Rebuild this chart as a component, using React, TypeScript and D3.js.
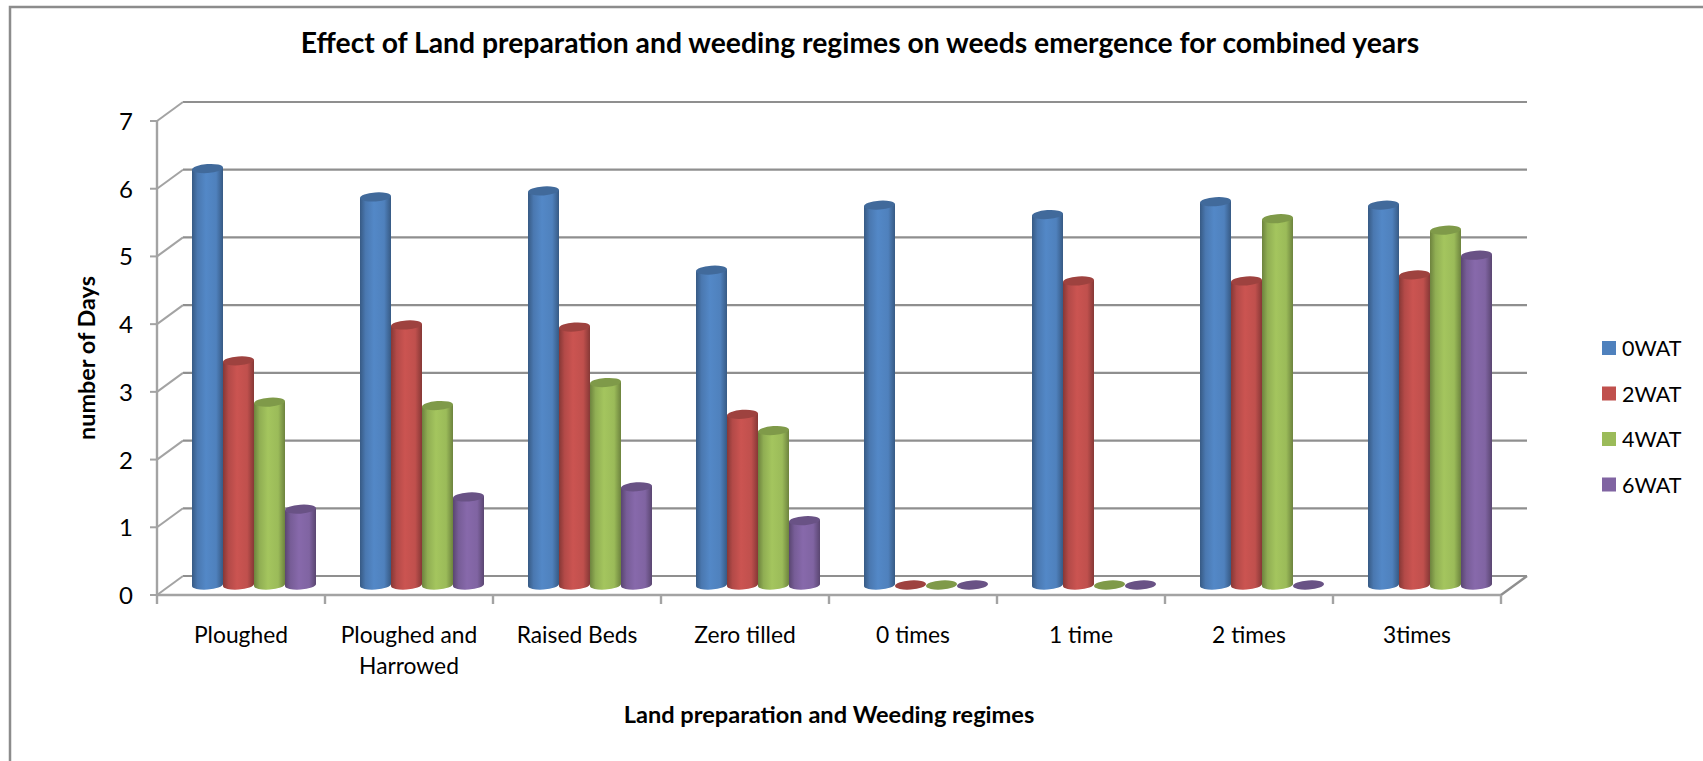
import * as d3 from 'd3';

const categories = ['Ploughed', 'Ploughed and|Harrowed', 'Raised Beds', 'Zero tilled', '0 times', '1 time', '2 times', '3times'];
const seriesNames = ['0WAT', '2WAT', '4WAT', '6WAT'];
const seriesColors = ['#4F81BD', '#C0504D', '#9BBB59', '#8064A2'];

const wat0 = [6.15, 5.73, 5.82, 4.65, 5.61, 5.47, 5.66, 5.61];
const wat2 = [3.31, 3.84, 3.81, 2.52, 0, 4.49, 4.49, 4.58];
const wat4 = [2.7, 2.65, 2.99, 2.28, 0, 0, 5.41, 5.24];
const wat6 = [1.12, 1.3, 1.45, 0.95, 0, 0, 0, 4.87];
const seriesValues = [wat0, wat2, wat4, wat6];

const yTicks = [0, 1, 2, 3, 4, 5, 6, 7];

const W = 1703;
const H = 761;
const FONT = 'Lato, sans-serif';
const GRID = '#8f8f8f';
const AXIS = '#a3a3a3';

// oblique depth of the 3D box
const depthX = 26;
const depthY = -19;

const y = d3.scaleLinear().domain([0, 7]).range([595, 121]);
const x = d3.scaleBand<string>().domain(categories).range([157, 1501]);
const slot = d3.scaleBand<string>().domain(seriesNames).range([35, 159]);

const barLift = 10;
const ry = 4.5;

function cylinderBody(left: number, right: number, top: number, bottom: number) {
  const rx = (right - left) / 2;
  const path = d3.path();
  path.moveTo(left, top);
  path.lineTo(left, bottom);
  return `${path.toString()} A${rx} ${ry} -4 0 0 ${right} ${bottom - 2} L${right} ${top - 2} Z`;
}

export default function App() {
  const front0 = y(0);
  const left = x.range()[0];
  const right = x.range()[1];

  return (
    <svg
      width={W}
      height={H}
      viewBox={`0 0 ${W} ${H}`}
      style={{ position: 'absolute', left: 0, top: 0, background: '#fff' }}
    >
      <defs>
        {seriesColors.map((c, i) => {
          const dark = d3.color(c)!.darker(1).formatHex();
          const mid = d3.color(c)!.darker(0.2).formatHex();
          return (
            <linearGradient id={`cyl${i}`} key={c} x1="0" x2="1" y1="0" y2="0">
              <stop offset="0%" stopColor={dark} />
              <stop offset="18%" stopColor={mid} />
              <stop offset="45%" stopColor={d3.color(c)!.brighter(0.15).formatHex()} />
              <stop offset="78%" stopColor={c} />
              <stop offset="100%" stopColor={dark} />
            </linearGradient>
          );
        })}
      </defs>

      {/* outer frame, only top and left show */}
      <path d={`M10 ${H} L10 7 L${W} 7`} fill="none" stroke="#8c8c8c" strokeWidth={2.5} />

      <text x={860} y={53} textAnchor="middle" fontFamily={FONT} fontWeight={700} fontSize={28.3} fill="#000">
        Effect of Land preparation and weeding regimes on weeds emergence for combined years
      </text>

      {/* back wall gridlines and side wall */}
      {yTicks.map((t) => (
        <g key={t} fill="none">
          <line x1={left + depthX} x2={right + depthX} y1={y(t) + depthY} y2={y(t) + depthY} stroke={GRID} strokeWidth={2.2} />
          <line x1={left} x2={left + depthX} y1={y(t)} y2={y(t) + depthY} stroke={AXIS} strokeWidth={2} />
          <line x1={left - 7} x2={left} y1={y(t)} y2={y(t)} stroke={AXIS} strokeWidth={2} />
          <text x={133} y={y(t) + 9} textAnchor="end" fontFamily={FONT} fontSize={24} fill="#000">
            {t}
          </text>
        </g>
      ))}
      <line x1={left} x2={left} y1={y(7)} y2={front0 + 9} stroke={AXIS} strokeWidth={2.4} />

      {/* floor */}
      <line x1={left} x2={right} y1={front0} y2={front0} stroke={AXIS} strokeWidth={2.4} />
      <line x1={right} x2={right + depthX} y1={front0} y2={front0 + depthY} stroke={GRID} strokeWidth={2.4} />
      {categories.map((c) => (
        <line
          key={c}
          x1={(x(c) as number) + x.bandwidth()}
          x2={(x(c) as number) + x.bandwidth()}
          y1={front0}
          y2={front0 + 9}
          stroke={AXIS}
          strokeWidth={2.4}
        />
      ))}

      {/* cylinders */}
      {categories.map((c, ci) => (
        <g key={c}>
          {seriesNames.map((s, si) => {
            const v = seriesValues[si][ci];
            const x0 = (x(c) as number) + (slot(s) as number);
            const x1 = x0 + slot.bandwidth();
            const cx = (x0 + x1) / 2;
            const rx = slot.bandwidth() / 2;
            const base = front0 - barLift;
            const top = y(v) - barLift;
            const topColor = d3.color(seriesColors[si])!.darker(0.55).formatHex();
            return (
              <g key={s}>
                {v > 0 && <path d={cylinderBody(x0, x1, top + 1, base + 1)} fill={`url(#cyl${si})`} />}
                <ellipse
                  cx={cx}
                  cy={top}
                  rx={rx}
                  ry={ry}
                  fill={topColor}
                  transform={`rotate(-4 ${cx} ${top})`}
                />
              </g>
            );
          })}
        </g>
      ))}

      {/* category labels */}
      {categories.map((c) => (
        <text
          key={c}
          x={(x(c) as number) + x.bandwidth() / 2}
          y={643}
          textAnchor="middle"
          fontFamily={FONT}
          fontSize={22.8}
          fill="#000"
        >
          {c.split('|').map((line, i) => (
            <tspan key={line} x={(x(c) as number) + x.bandwidth() / 2} dy={i === 0 ? 0 : 31}>
              {line}
            </tspan>
          ))}
        </text>
      ))}

      <text
        transform="translate(95 358) rotate(-90)"
        textAnchor="middle"
        fontFamily={FONT}
        fontWeight={700}
        fontSize={23.4}
        fill="#000"
      >
        number of Days
      </text>
      <text x={829} y={723} textAnchor="middle" fontFamily={FONT} fontWeight={700} fontSize={23.6} fill="#000">
        Land preparation and Weeding regimes
      </text>

      {/* legend */}
      {seriesNames.map((s, i) => (
        <g key={s} transform={`translate(1602 ${348 + i * 45.5})`}>
          <rect x={0} y={-7} width={14} height={14} fill={seriesColors[i]} />
          <text x={20} y={8} fontFamily={FONT} fontSize={21.5} fill="#000">
            {s}
          </text>
        </g>
      ))}
    </svg>
  );
}
